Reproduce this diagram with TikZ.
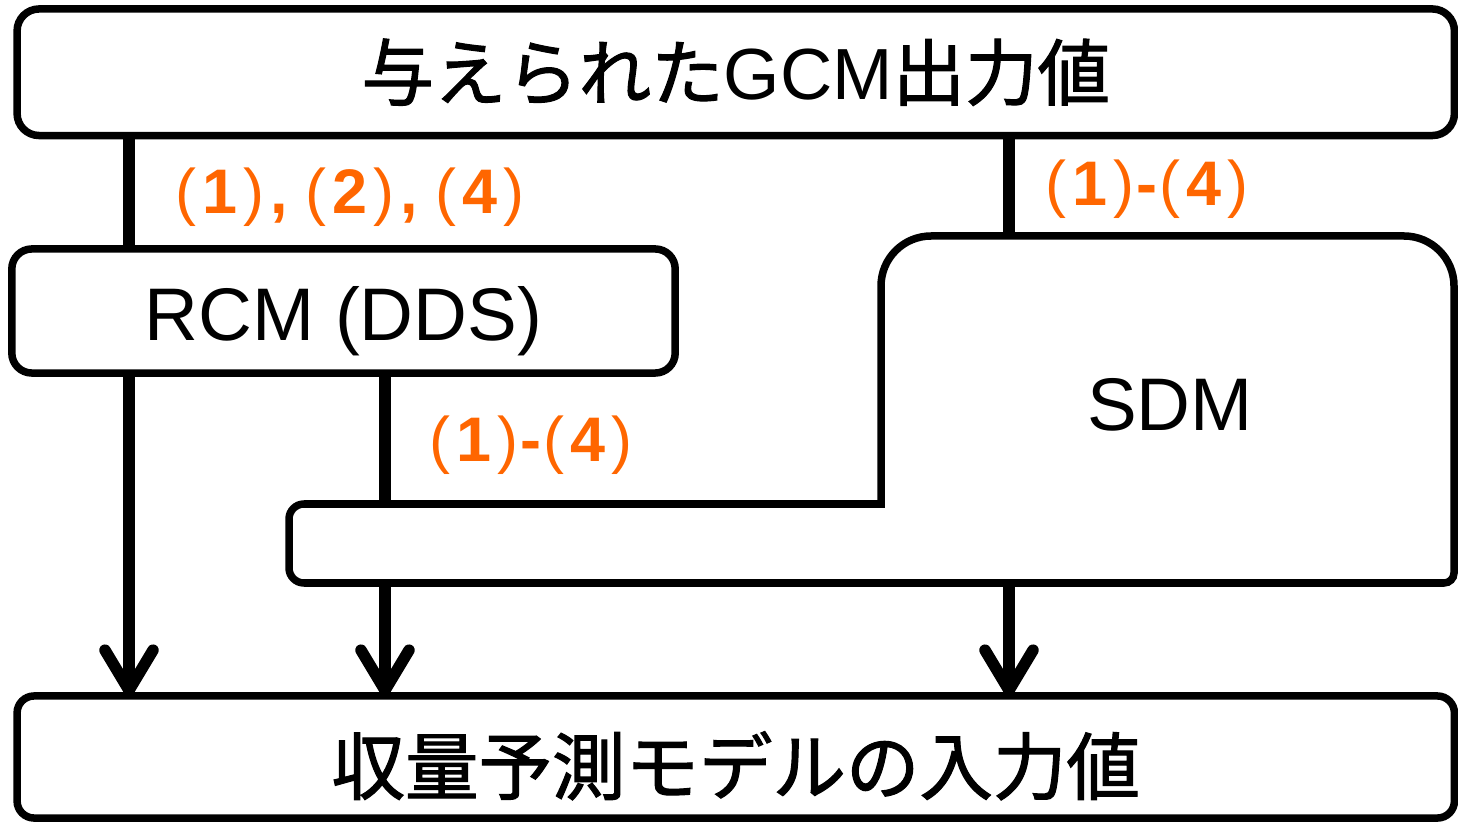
\documentclass[tikz,border=0pt]{standalone}
\usepackage{fontspec}
\setmainfont{Liberation Sans}
\newfontfamily\jp{Noto Sans CJK JP}[FakeBold=1.5]
\usetikzlibrary{arrows.meta}
\definecolor{lblorange}{RGB}{255,102,0}
\newcommand\Lpr{{\mdseries(}\kern0.06cm}
\newcommand\Rpr{\kern0.06cm{\mdseries)}}
\newcommand\Cma{\kern0.06cm,\ }
\newcommand\Hyp{\kern0.02cm-\kern0.02cm}
\tikzset{
  box/.style={draw, line width=0.075cm, inner sep=0pt, outer sep=0pt, align=center},
  conn/.style={line width=0.115cm},
  arr/.style={-{Straight Barb[length=0.40cm,width=0.48cm,line cap=round,line join=round]}},
  lbl/.style={text=lblorange, inner sep=0pt, font=\fontsize{17.9}{20}\selectfont\bfseries},
}
\begin{document}
\begin{tikzpicture}[x=0.01cm,y=-0.01cm]
\useasboundingbox (0,0) rectangle (1458,825);
% boxes
\node[box, rounded corners=0.22cm, minimum width=14.365cm, minimum height=1.265cm,
      font=\fontsize{20.6}{24}\selectfont] (top) at (735.75,72.25)
      {{\jp 与えられた}GCM{\jp 出力値}};
\node[box, rounded corners=0.2cm, minimum width=6.63cm, minimum height=1.24cm,
      text height=0.6cm, text depth=0.02cm,
      font=\fontsize{21.2}{24}\selectfont] (rcm) at (343.5,311) {RCM (DDS)};
\node[box, rounded corners=0.17cm, minimum width=14.365cm, minimum height=1.22cm,
      text height=0.80cm, text depth=0.06cm,
      font=\fontsize{20.9}{24}\selectfont\jp] (bot) at (735.75,757) {収量予測モデルの入力値};
% SDM shape
\coordinate (sdmA) at (881,504);
\coordinate (sdmB) at (881,236);
\coordinate (sdmC) at (1454,236);
\coordinate (sdmD) at (1454,583);
\coordinate (sdmE) at (289,583);
\coordinate (sdmF) at (289,504);
\draw[line width=0.075cm, line join=miter]
  (sdmA) [rounded corners=0.5cm] -- (sdmB) -- (sdmC) [rounded corners=0.1cm] -- (sdmD)
  [rounded corners=0.15cm] -- (sdmE) -- (sdmF) [sharp corners] -- cycle;
\node[inner sep=0pt, font=\fontsize{21.2}{24}\selectfont] (sdm) at (1170,405) {SDM};
% connector x positions
\coordinate (xa) at (129,0);
\coordinate (xb) at (385,0);
\coordinate (xc) at (1009,0);
\coordinate (sdmTop) at (1009,236);
\coordinate (barTop) at (385,504);
\coordinate (barBotB) at (385,583);
\coordinate (barBotC) at (1009,583);
% connectors
\draw[conn] (top.south -| xa) -- (rcm.north -| xa);
\draw[conn] (top.south -| xc) -- (sdmTop);
\draw[conn,arr] (rcm.south -| xa) -- (bot.north -| xa);
\draw[conn] (rcm.south -| xb) -- (barTop);
\draw[conn,arr] (barBotB) -- (bot.north -| xb);
\draw[conn,arr] (barBotC) -- (bot.north -| xc);
% labels
\node[lbl] (l1) at (350,197) {\Lpr1\Rpr\Cma\Lpr2\Rpr\Cma\Lpr4\Rpr};
\node[lbl] (l2) at (1147,189) {\Lpr1\Rpr\Hyp\Lpr4\Rpr};
\node[lbl] (l3) at (531,445) {\Lpr1\Rpr\Hyp\Lpr4\Rpr};
\end{tikzpicture}
\end{document}
